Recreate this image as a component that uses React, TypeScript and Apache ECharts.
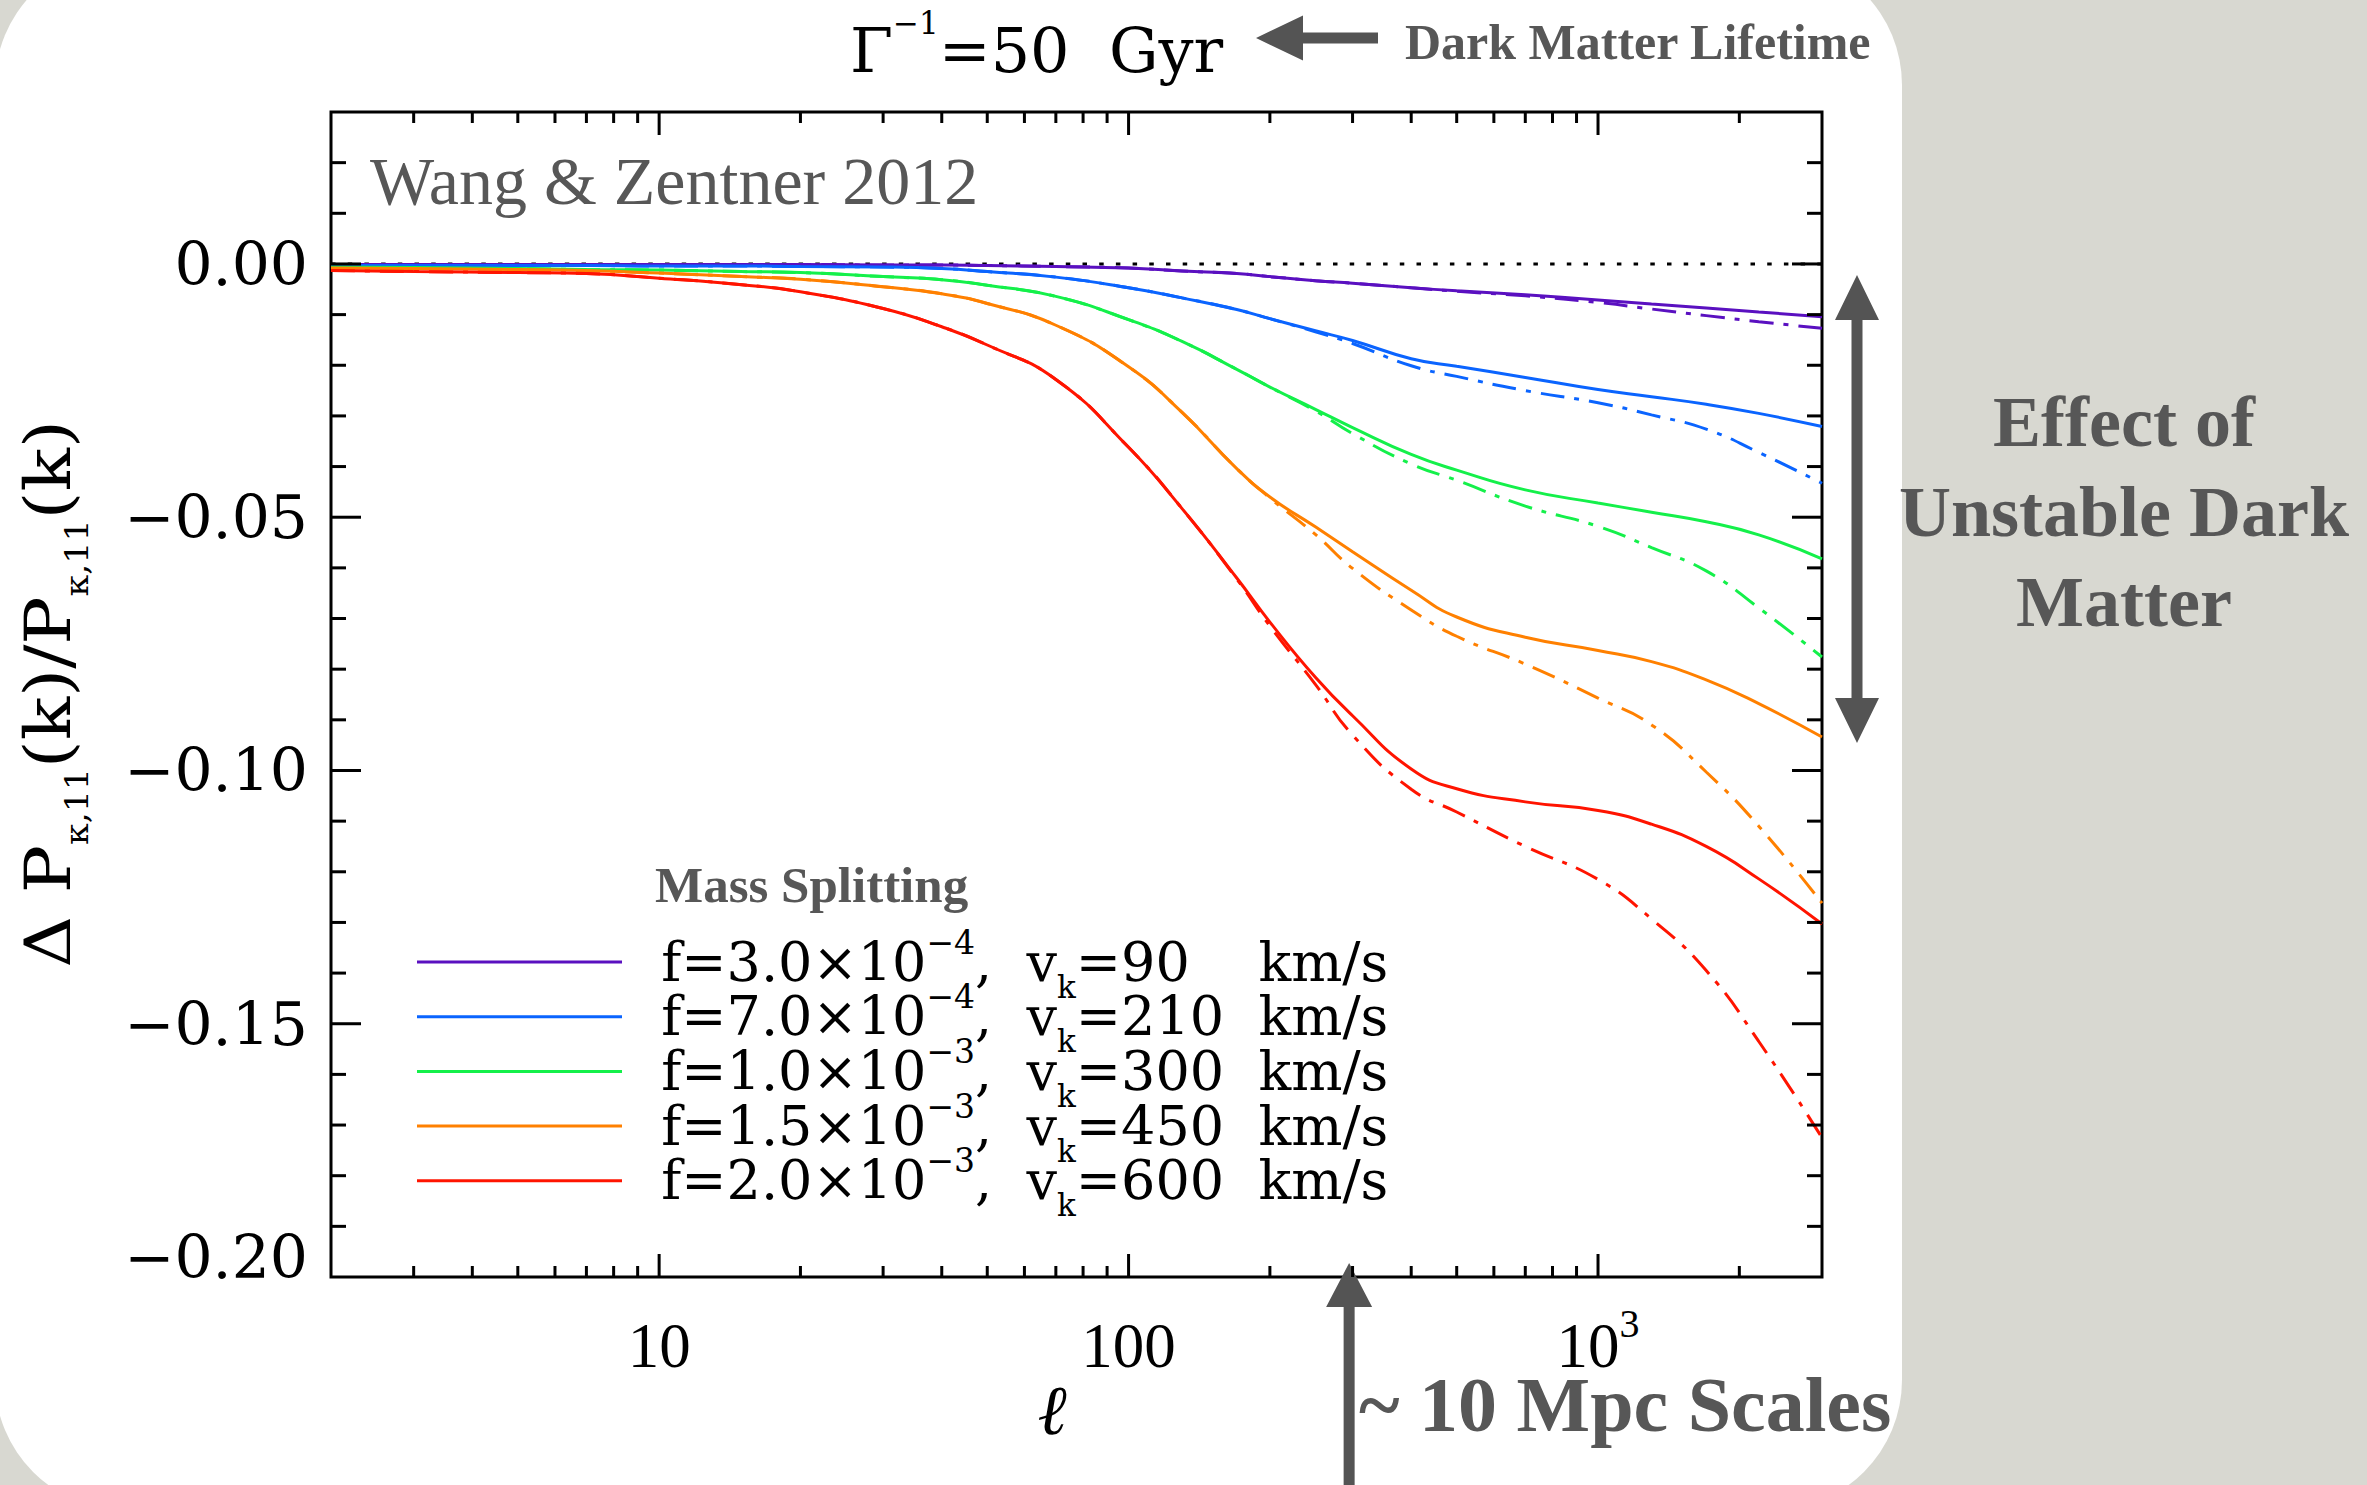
import React, { useEffect, useRef } from 'react';
import * as echarts from 'echarts';

const W = 2367;
const H = 1485;

// multipole values (x)
const ELL = [2, 3, 5, 7, 10, 15, 20, 30, 40, 50, 70, 100, 130, 170, 200, 250, 300, 400, 500, 700, 1000, 1300, 1700, 2200, 3000];

// solid curves
const PURPLE_SOLID = [-0.0001, -0.0001, -0.0001, -0.0001, -0.0001, -0.0001, -0.0001, -0.0002, -0.0002, -0.0003, -0.0005, -0.0008, -0.0014, -0.0019, -0.0025, -0.0033, -0.0038, -0.0047, -0.0053, -0.0061, -0.0071, -0.0079, -0.0087, -0.0095, -0.0104];
const BLUE_SOLID = [-0.0003, -0.0003, -0.0003, -0.0003, -0.0004, -0.0004, -0.0005, -0.0006, -0.0009, -0.0015, -0.0026, -0.0047, -0.0067, -0.009, -0.0108, -0.0132, -0.0151, -0.0187, -0.0202, -0.0224, -0.0248, -0.0262, -0.0277, -0.0295, -0.0321];
const GREEN_SOLID = [-0.0006, -0.0007, -0.0009, -0.0011, -0.0012, -0.0015, -0.0017, -0.0025, -0.0031, -0.0042, -0.0064, -0.011, -0.0153, -0.0208, -0.0243, -0.0287, -0.0323, -0.0376, -0.0407, -0.0446, -0.0472, -0.049, -0.0509, -0.0535, -0.0582];
const ORANGE_SOLID = [-0.0008, -0.0009, -0.0011, -0.0013, -0.0018, -0.0025, -0.003, -0.0045, -0.0059, -0.0078, -0.0121, -0.0203, -0.0293, -0.0404, -0.046, -0.0519, -0.0568, -0.0644, -0.0697, -0.0737, -0.0763, -0.0785, -0.0821, -0.0868, -0.0934];
const RED_SOLID = [-0.0013, -0.0015, -0.0017, -0.0019, -0.0028, -0.0041, -0.0055, -0.0088, -0.0124, -0.016, -0.0228, -0.0362, -0.0483, -0.062, -0.0707, -0.0816, -0.0892, -0.0997, -0.1036, -0.1062, -0.1079, -0.1106, -0.115, -0.1214, -0.1303];

// dash-dot curves
const PURPLE_DASHDOT = [-0.0001, -0.0001, -0.0001, -0.0001, -0.0001, -0.0001, -0.0001, -0.0002, -0.0002, -0.0003, -0.0005, -0.0008, -0.0014, -0.0019, -0.0025, -0.0033, -0.0038, -0.0047, -0.0054, -0.0063, -0.0076, -0.0089, -0.0102, -0.0114, -0.0127];
const BLUE_DASHDOT = [-0.0003, -0.0003, -0.0003, -0.0003, -0.0004, -0.0004, -0.0005, -0.0006, -0.0009, -0.0015, -0.0026, -0.0047, -0.0067, -0.009, -0.0108, -0.0134, -0.0157, -0.0201, -0.0222, -0.025, -0.0274, -0.0298, -0.0326, -0.0372, -0.0433];
const GREEN_DASHDOT = [-0.0006, -0.0007, -0.0009, -0.0011, -0.0012, -0.0015, -0.0017, -0.0025, -0.0031, -0.0042, -0.0064, -0.011, -0.0153, -0.0208, -0.0243, -0.029, -0.0335, -0.0395, -0.0427, -0.0478, -0.0518, -0.056, -0.0606, -0.0679, -0.0776];
const ORANGE_DASHDOT = [-0.0008, -0.0009, -0.0011, -0.0013, -0.0018, -0.0025, -0.003, -0.0045, -0.0059, -0.0078, -0.0121, -0.0203, -0.0293, -0.0404, -0.0462, -0.0534, -0.0601, -0.0683, -0.0735, -0.079, -0.0857, -0.091, -0.1003, -0.111, -0.1262];
const RED_DASHDOT = [-0.0013, -0.0015, -0.0017, -0.0019, -0.0028, -0.0041, -0.0055, -0.0088, -0.0124, -0.016, -0.0228, -0.0362, -0.0483, -0.0622, -0.0715, -0.083, -0.093, -0.1037, -0.1082, -0.115, -0.1215, -0.1293, -0.1395, -0.1535, -0.1725];

// legend content
const F_MANTISSA = ['3.0', '7.0', '1.0', '1.5', '2.0'];
const F_EXPONENT = ['\u22124', '\u22124', '\u22123', '\u22123', '\u22123'];
const VK = ['90', '210', '300', '450', '600'];
const COLORS = ['#5a10c0', '#0a64ff', '#14f04a', '#ff8000', '#ff1400'];

// axes
const X_MIN = 2;
const X_MAX = 3000;
const Y_MIN = -0.2;
const Y_MAX = 0.03;
const Y_INTERVAL = 0.05;
const X_LABEL_VALUES = [10, 100, 1000];
const X_LABEL_BASE = ['10', '100', '10'];
const X_LABEL_EXP = ['', '', '3'];
const X_MAJOR_TICKS = [10, 100, 1000];
const X_MINOR_TICKS = [3, 4, 5, 6, 7, 8, 9, 20, 30, 40, 50, 60, 70, 80, 90, 200, 300, 400, 500, 600, 700, 800, 900, 2000];
const Y_MAJOR_TICKS = [-0.15, -0.1, -0.05, 0];
const Y_MINOR_TICKS = [-0.19, -0.18, -0.17, -0.16, -0.14, -0.13, -0.12, -0.11, -0.09, -0.08, -0.07, -0.06, -0.04, -0.03, -0.02, -0.01, 0.01, 0.02];
const ARROW_ELL = 295;

const SOLID = [PURPLE_SOLID, BLUE_SOLID, GREEN_SOLID, ORANGE_SOLID, RED_SOLID];
const DASHDOT = [PURPLE_DASHDOT, BLUE_DASHDOT, GREEN_DASHDOT, ORANGE_DASHDOT, RED_DASHDOT];
const SOLID_NAMES = F_MANTISSA.map((m, i) => `f=${m}\u00d710^${F_EXPONENT[i]}, v_k=${VK[i]} km/s`);

const GRAY = '#575757';
const SERIF = 'DejaVu Serif';
const TIMES = 'Liberation Serif';
const SMOOTH = 0.5;

function buildSeries(): any[] {
  const out: any[] = [];
  out.push({
    name: 'zero',
    type: 'line',
    data: [[X_MIN, 0], [X_MAX, 0]],
    symbol: 'none',
    silent: true,
    z: 1,
    lineStyle: { color: '#000', width: 3, type: [4.5, 12.2] },
  });
  SOLID.forEach((vals, i) => {
    out.push({
      name: 'dd' + i,
      type: 'line',
      data: ELL.map((l, j) => [l, DASHDOT[i][j]]),
      symbol: 'none',
      smooth: SMOOTH,
      silent: true,
      z: 2,
      lineStyle: { color: COLORS[i], width: 3, type: [24, 10, 5, 10], cap: 'butt' },
      itemStyle: { color: COLORS[i] },
    });
    out.push({
      name: SOLID_NAMES[i],
      type: 'line',
      data: ELL.map((l, j) => [l, vals[j]]),
      symbol: 'none',
      smooth: SMOOTH,
      silent: true,
      z: 3,
      lineStyle: { color: COLORS[i], width: 3 },
      itemStyle: { color: COLORS[i] },
    });
  });
  // x ticks (bottom and top, inward)
  out.push({
    name: 'xticks',
    type: 'custom',
    silent: true,
    clip: false,
    z: 5,
    encode: { x: 0, y: 1 },
    data: [...X_MAJOR_TICKS.map((v) => [v, 0, 1]), ...X_MINOR_TICKS.map((v) => [v, 0, 0])],
    renderItem: (params: any, api: any) => {
      const v = api.value(0);
      const len = api.value(2) === 1 ? 23 : 11;
      const b = api.coord([v, Y_MIN]);
      const t = api.coord([v, Y_MAX]);
      return {
        type: 'group',
        children: [
          { type: 'line', shape: { x1: b[0], y1: b[1], x2: b[0], y2: b[1] - len }, style: { stroke: '#000', lineWidth: 3 } },
          { type: 'line', shape: { x1: t[0], y1: t[1], x2: t[0], y2: t[1] + len }, style: { stroke: '#000', lineWidth: 3 } },
        ],
      };
    },
  });
  // y ticks (left and right, inward)
  out.push({
    name: 'yticks',
    type: 'custom',
    silent: true,
    clip: false,
    z: 5,
    encode: { x: 0, y: 1 },
    data: [...Y_MAJOR_TICKS.map((v) => [10, v, 1]), ...Y_MINOR_TICKS.map((v) => [10, v, 0])],
    renderItem: (params: any, api: any) => {
      const v = api.value(1);
      const len = api.value(2) === 1 ? 30 : 15;
      const l = api.coord([X_MIN, v]);
      const r = api.coord([X_MAX, v]);
      return {
        type: 'group',
        children: [
          { type: 'line', shape: { x1: l[0], y1: l[1], x2: l[0] + len, y2: l[1] }, style: { stroke: '#000', lineWidth: 3 } },
          { type: 'line', shape: { x1: r[0], y1: r[1], x2: r[0] - len, y2: r[1] }, style: { stroke: '#000', lineWidth: 3 } },
        ],
      };
    },
  });
  return out;
}

function text(x: number, y: number, str: string, o: any): any {
  return {
    type: 'text',
    x,
    y,
    silent: true,
    rotation: o.rotation || 0,
    scaleX: o.scaleX || 1,
    style: {
      text: str,
      fill: o.color || '#000',
      fontFamily: o.fontFamily || TIMES,
      fontSize: o.fontSize,
      fontWeight: o.fontWeight || 'normal',
      fontStyle: o.fontStyle || 'normal',
      lineHeight: o.lineHeight,
      textAlign: o.align || 'left',
      align: o.align || 'left',
      textVerticalAlign: o.vAlign || 'middle',
      verticalAlign: o.vAlign || 'middle',
      rich: o.rich,
    },
  };
}

function buildGraphics(arrowX: number): any[] {
  const g: any[] = [];
  // white rounded panel
  g.push({
    type: 'rect',
    z: -100,
    silent: true,
    shape: { x: -5, y: -45, width: 1907, height: 1555, r: 130 },
    style: { fill: '#ffffff' },
  });
  // top annotation
  g.push(text(850, 50.5, '{m|\u0393}{s|\u22121}{m|=50\u00a0\u00a0Gyr}', {
    fontFamily: SERIF,
    fontSize: 62,
    lineHeight: 62,
    rich: {
      m: { fontFamily: SERIF, fontSize: 62, lineHeight: 62, fill: '#000', color: '#000' },
      s: { fontFamily: SERIF, fontSize: 31, lineHeight: 62, height: 6, verticalAlign: 'top', fill: '#000', color: '#000' },
    },
  }));
  g.push({
    type: 'polygon',
    silent: true,
    shape: { points: [[1256, 38], [1303, 15.5], [1303, 32.5], [1378, 32.5], [1378, 43.5], [1303, 43.5], [1303, 60.5]] },
    style: { fill: '#545454' },
  });
  g.push(text(1405, 41.8, 'Dark Matter Lifetime', { color: GRAY, fontSize: 50, fontWeight: 'bold' }));
  // inside-plot annotations
  g.push(text(370, 181, 'Wang & Zentner 2012', { color: GRAY, fontSize: 68 }));
  g.push(text(655, 884.5, 'Mass Splitting', { color: GRAY, fontSize: 51, fontWeight: 'bold' }));
  // y-axis title (rotated)
  g.push(text(48, 694, '{m|\u0394\u00a0P}{s|\u03ba,11}{m|(k)/P}{s|\u03ba,11}{m|(k)}', {
    fontFamily: SERIF,
    fontSize: 64,
    lineHeight: 64,
    align: 'center',
    rotation: Math.PI / 2,
    scaleX: 1.12,
    rich: {
      m: { fontFamily: SERIF, fontSize: 64, lineHeight: 64, fill: '#000', color: '#000' },
      s: { fontFamily: SERIF, fontSize: 31, lineHeight: 64, height: 5, verticalAlign: 'bottom', fill: '#000', color: '#000' },
    },
  }));
  // x-axis title
  g.push(text(1052, 1410, '\u2113', { fontFamily: SERIF, fontSize: 70, fontStyle: 'italic', align: 'center' }));
  // right double arrow
  g.push({
    type: 'polygon',
    silent: true,
    shape: {
      points: [[1857, 275], [1879, 320], [1862.5, 320], [1862.5, 698], [1879, 698], [1857, 743], [1835, 698], [1851.5, 698], [1851.5, 320], [1835, 320]],
    },
    style: { fill: '#545454' },
  });
  g.push(text(2124, 376.7, 'Effect of\nUnstable Dark\nMatter', {
    color: GRAY, fontSize: 72, fontWeight: 'bold', align: 'center', vAlign: 'top', lineHeight: 90,
  }));
  // bottom arrow
  g.push({
    type: 'polygon',
    silent: true,
    shape: {
      points: [[arrowX, 1263], [arrowX + 23, 1307], [arrowX + 5.5, 1307], [arrowX + 5.5, 1495], [arrowX - 5.5, 1495], [arrowX - 5.5, 1307], [arrowX - 23, 1307]],
    },
    style: { fill: '#545454' },
  });
  g.push(text(1359, 1404, '~ 10 Mpc Scales', { color: GRAY, fontSize: 78, fontWeight: 'bold', lineHeight: 78 }));
  return g;
}

const option: any = {
  animation: false,
  backgroundColor: '#d8d8d1',
  grid: {
    left: 331,
    top: 112,
    width: 1491,
    height: 1165,
    show: true,
    borderColor: '#000',
    borderWidth: 3,
    backgroundColor: 'transparent',
    containLabel: false,
    outerBoundsMode: 'none',
  },
  xAxis: {
    type: 'log',
    logBase: 10,
    min: X_MIN,
    max: X_MAX,
    axisLine: { show: false },
    axisTick: { show: false },
    minorTick: { show: false },
    splitLine: { show: false },
    axisLabel: {
      show: true,
      showMinLabel: false,
      showMaxLabel: false,
      margin: 37,
      color: '#000',
      fontFamily: TIMES,
      fontSize: 63,
      lineHeight: 63,
      formatter: (v: number) => {
        const idx = X_LABEL_VALUES.findIndex((t) => Math.abs(Math.log10(v) - Math.log10(t)) < 1e-6);
        if (idx < 0) return '';
        return X_LABEL_EXP[idx] ? `${X_LABEL_BASE[idx]}{s|${X_LABEL_EXP[idx]}}` : X_LABEL_BASE[idx];
      },
      rich: {
        s: { fontFamily: TIMES, fontSize: 40, lineHeight: 63, height: 18.6, verticalAlign: 'top', color: '#000' },
      },
    },
  },
  yAxis: {
    type: 'value',
    min: Y_MIN,
    max: Y_MAX,
    interval: Y_INTERVAL,
    axisLine: { show: false },
    axisTick: { show: false },
    splitLine: { show: false },
    axisLabel: {
      showMaxLabel: false,
      margin: 23,
      color: '#000',
      fontFamily: SERIF,
      fontSize: 60,
      lineHeight: 60,
      formatter: (v: number) => {
        if (v > 0.001) return '';
        if (Math.abs(v) < 1e-9) return '0.00';
        const s = '\u2212' + Math.abs(v).toFixed(2);
        if (Math.abs(v - Y_MIN) < 1e-9) return `{low|${s}}`;
        return s;
      },
      rich: {
        low: { fontFamily: SERIF, fontSize: 60, lineHeight: 60, padding: [0, 0, 40, 0], color: '#000' },
      },
    },
  },
  legend: {
    data: SOLID_NAMES,
    orient: 'vertical',
    left: 417,
    top: 925.5,
    padding: 0,
    itemWidth: 205,
    itemHeight: 3,
    itemGap: -21.8,
    icon: 'rect',
    selectedMode: false,
    textStyle: {
      fontFamily: SERIF,
      fontSize: 54,
      lineHeight: 54,
      color: '#000',
      rich: {
        sup: { fontFamily: SERIF, fontSize: 33, lineHeight: 54, height: 14, verticalAlign: 'top', color: '#000' },
        sub: { fontFamily: SERIF, fontSize: 31, lineHeight: 54, height: 5, verticalAlign: 'bottom', color: '#000' },
      },
    },
    formatter: (name: string) => {
      const i = SOLID_NAMES.indexOf(name);
      const pad = VK[i].length === 2 ? '\u00a0\u00a0\u00a0\u00a0' : '\u00a0\u00a0';
      return `\u00a0\u00a0f=${F_MANTISSA[i]}\u00d710{sup|${F_EXPONENT[i]}},\u00a0\u00a0v{sub|k}=${VK[i]}${pad}km/s`;
    },
  },
  series: buildSeries(),
};

export default function App() {
  const ref = useRef<HTMLDivElement>(null);
  useEffect(() => {
    if (!ref.current) return;
    const chart = echarts.init(ref.current, null, { renderer: 'svg', width: W, height: H });
    chart.setOption(option);
    const px = chart.convertToPixel({ xAxisIndex: 0, yAxisIndex: 0 }, [ARROW_ELL, Y_MIN]) as number[];
    chart.setOption({ graphic: { elements: buildGraphics(px[0]) } });
    return () => {
      chart.dispose();
    };
  }, []);
  return <div ref={ref} style={{ position: 'fixed', left: 0, top: 0, width: W, height: H }} />;
}
